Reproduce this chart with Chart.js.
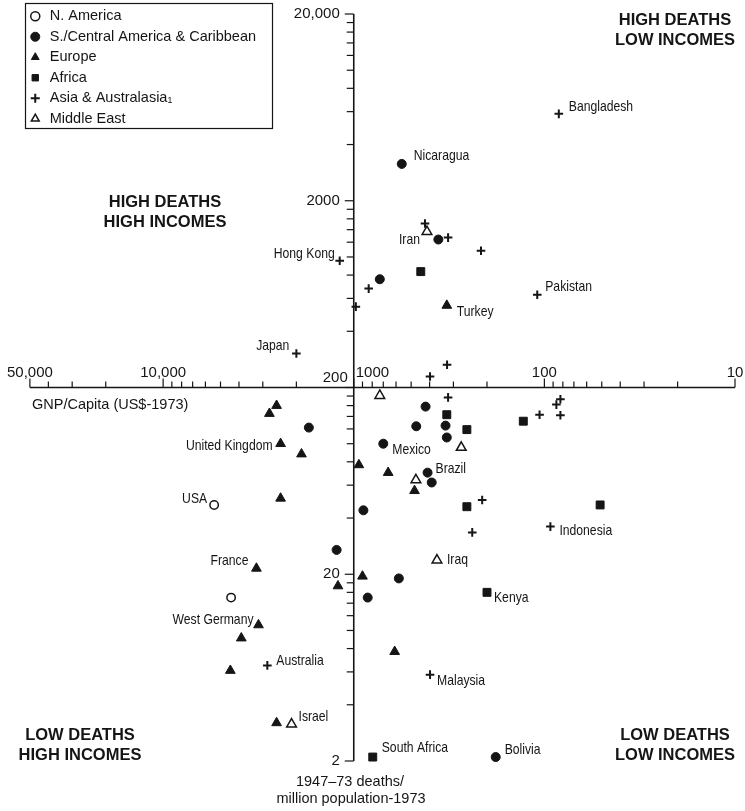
<!DOCTYPE html>
<html>
<head>
<meta charset="utf-8">
<script src="https://cdn.jsdelivr.net/npm/chart.js@4.4.1/dist/chart.umd.min.js"></script>
<style>
    html, body { margin: 0; padding: 0; background: #fff; }
    #wrap { width: 745px; height: 811px; position: relative; }
</style>
</head>
<body>
<div id="wrap"><canvas id="my-deaths"></canvas></div>
<script>
/*
    Data: GNP per capita (US$-1973) vs 1947-73 deaths per million population
*/

// N. America
const naGnp = [5400, 4400];
const naDeaths = [47, 15];
const naNames = ['USA', ''];

// S./Central America & Caribbean
const saGnp = [560, 360, 730, 420, 470, 330, 325, 700, 410, 390, 890, 1720, 1230, 580, 845, 180];
const saDeaths = [3150, 1240, 760, 158, 124, 125, 108, 100, 70, 62, 44, 122, 27, 19, 15, 2.1];
const saNames = ['Nicaragua', '', '', '', '', '', '', 'Mexico', 'Brazil', '', '', '', '', '', '', 'Bolivia'];

// Europe
const euGnp = [325, 940, 660, 480, 2540, 2770, 2420, 1880, 2420, 3240, 900, 1210, 3160, 3890, 610, 4440, 2540];
const euDeaths = [550, 77, 70, 56, 160, 145, 100, 88, 51, 21.5, 19.5, 17.3, 10.7, 9.1, 7.7, 6.1, 3.2];
const euNames = ['Turkey', '', '', '', '', '', 'United Kingdom', '', '', 'France', '', '', 'West Germany', '', '', '', ''];

// Africa
const afGnp = [445, 325, 255, 129, 255, 51, 200, 795];
const afDeaths = [835, 143, 119, 132, 46, 47, 16, 2.1];
const afNames = ['', '', '', '', '', '', 'Kenya', 'South Africa'];

// Asia & Australasia
const asGnp = [84, 423, 320, 215, 1185, 835, 975, 109, 2000, 324, 398, 320, 212, 239, 93, 106, 86.5, 82.4, 82.4, 2840, 398];
const asDeaths = [5840, 1510, 1270, 1080, 955, 677, 542, 628, 304, 265, 229, 177, 50, 33.5, 36, 143, 162, 173, 142, 6.5, 5.8];
const asNames = ['Bangladesh', '', '', '', 'Hong Kong', '', '', 'Pakistan', 'Japan', '', '', '', '', '', 'Indonesia', '', '', '', '', 'Australia', 'Malaysia'];

// Middle East
const meGnp = [413, 730, 273, 472, 366, 2120];
const meDeaths = [1366, 181, 95.5, 64, 23.8, 3.15];
const meNames = ['Iran', '', '', '', 'Iraq', 'Israel'];

const regionLabels = ['N. America', 'S./Central America & Caribbean', 'Europe', 'Africa', 'Asia & Australasia\u2081', 'Middle East'];

// axes (x is reversed: rich countries on the left)
const xTickValues = [50000, 10000, 1000, 100, 10];
const xTickLabels = ['50,000', '10,000', '1000', '100', '10'];
const yTickValues = [20000, 2000, 200, 20, 2];
const yTickLabels = ['20,000', '2000', '200', '20', '2'];
const xTitle = 'GNP/Capita (US$-1973)';
const yTitle = ['1947\u201373 deaths/', 'million population-1973'];
const quadrantNotes = [
    ['HIGH DEATHS', 'LOW INCOMES'],
    ['HIGH DEATHS', 'HIGH INCOMES'],
    ['LOW DEATHS', 'HIGH INCOMES'],
    ['LOW DEATHS', 'LOW INCOMES']
];

const INK = '#151515';
const SANS = '"Liberation Sans", Arial, Helvetica, sans-serif';

const toPoints = (xs, ys) => xs.map((v, i) => ({ x: v, y: ys[i] }));

function makeSet(label, xs, ys, names, style, radius, fill, width) {
    return {
        label: label,
        data: toPoints(xs, ys),
        names: names,
        pointStyle: style,
        pointRadius: radius,
        pointHoverRadius: radius,
        backgroundColor: fill,
        borderColor: INK,
        borderWidth: width,
        pointBorderWidth: width,
        clip: false
    };
}

// where each country name sits next to its marker: [dx, dy, align]
const labelPlace = {
    'Bangladesh': [10, -7, 'left'],
    'Nicaragua': [12, -8, 'left'],
    'Iran': [-7, 8, 'right'],
    'Hong Kong': [-5, -7, 'right'],
    'Turkey': [10, 7, 'left'],
    'Pakistan': [8, -8, 'left'],
    'Japan': [-7, -8, 'right'],
    'Mexico': [9, 6, 'left'],
    'Brazil': [8, -4, 'left'],
    'Indonesia': [9, 4, 'left'],
    'United Kingdom': [-8, 2, 'right'],
    'USA': [-7, -6, 'right'],
    'France': [-8, -7, 'right'],
    'Iraq': [10, 0, 'left'],
    'Kenya': [7, 6, 'left'],
    'West Germany': [-5, -5, 'right'],
    'Australia': [9, -4, 'left'],
    'Malaysia': [7, 6, 'left'],
    'Israel': [7, -7, 'left'],
    'South Africa': [9, -9, 'left'],
    'Bolivia': [9, -7, 'left']
};

/*
    Axes crossing at GNP 1000 / 200 deaths, drawn from the chart's own scales
*/
const crossAxes = {
    id: 'crossAxes',
    beforeDatasetsDraw(chart) {
        const { ctx, scales: { x, y } } = chart;
        const ax = x.getPixelForValue(1000);
        const ay = y.getPixelForValue(200);
        ctx.save();
        ctx.strokeStyle = INK;
        ctx.fillStyle = INK;

        // x axis line + ticks (pointing up)
        ctx.lineWidth = 1.6;
        ctx.beginPath();
        ctx.moveTo(x.getPixelForValue(50000), ay);
        ctx.lineTo(x.getPixelForValue(10), ay);
        ctx.stroke();
        ctx.lineWidth = 1.2;
        for (let p = 10; p <= 10000; p *= 10) {
            for (let m = 1; m <= 9; m++) {
                const v = m * p;
                if (v > 50000) break;
                const px = x.getPixelForValue(v);
                const len = xTickValues.includes(v) ? 9 : 6;
                ctx.beginPath();
                ctx.moveTo(px, ay);
                ctx.lineTo(px, ay - len);
                ctx.stroke();
            }
        }

        // y axis line + ticks (pointing left)
        ctx.lineWidth = 1.6;
        ctx.beginPath();
        ctx.moveTo(ax, y.getPixelForValue(20000));
        ctx.lineTo(ax, y.getPixelForValue(2));
        ctx.stroke();
        ctx.lineWidth = 1.2;
        for (let p = 1; p <= 10000; p *= 10) {
            for (let m = 2; m <= 18; m += 2) {
                const v = m * p;
                if (v > 20000) break;
                const py = y.getPixelForValue(v);
                const len = yTickValues.includes(v) ? 9 : 7;
                ctx.beginPath();
                ctx.moveTo(ax, py);
                ctx.lineTo(ax - len, py);
                ctx.stroke();
            }
        }

        // tick labels
        ctx.font = '15px ' + SANS;
        ctx.textBaseline = 'alphabetic';
        xTickValues.forEach((v, i) => {
            const px = x.getPixelForValue(v);
            if (v === 1000) {
                ctx.textAlign = 'left';
                ctx.fillText(xTickLabels[i], px + 2, ay - 11);
            } else {
                ctx.textAlign = 'center';
                ctx.fillText(xTickLabels[i], px, ay - 11);
            }
        });
        ctx.textAlign = 'right';
        ctx.textBaseline = 'middle';
        yTickValues.forEach((v, i) => {
            const py = y.getPixelForValue(v);
            if (v === 200) {
                ctx.fillText(yTickLabels[i], ax - 6, py - 10);
            } else {
                ctx.fillText(yTickLabels[i], ax - 14, py);
            }
        });
        ctx.restore();
    },
    afterDatasetsDraw(chart) {
        const { ctx } = chart;
        ctx.save();
        ctx.fillStyle = INK;
        ctx.textBaseline = 'middle';
        ctx.font = '14.5px ' + SANS;
        chart.data.datasets.forEach((ds, di) => {
            const meta = chart.getDatasetMeta(di);
            meta.data.forEach((pt, j) => {
                const name = ds.names[j];
                if (!name) return;
                const place = labelPlace[name] || [8, 0, 'left'];
                // condensed look: squeeze the text sideways
                ctx.save();
                ctx.translate(pt.x + place[0], pt.y + place[1]);
                ctx.scale(0.84, 1);
                ctx.textAlign = place[2];
                ctx.fillText(name, 0, 0);
                ctx.restore();
            });
        });
        ctx.restore();
    },
    afterDraw(chart) {
        const { ctx } = chart;
        ctx.save();
        ctx.fillStyle = INK;
        ctx.strokeStyle = INK;

        // legend frame
        ctx.lineWidth = 1.2;
        ctx.strokeRect(25.5, 3.5, 247, 125);

        // axis titles
        ctx.font = '14.5px ' + SANS;
        ctx.textBaseline = 'middle';
        ctx.textAlign = 'left';
        ctx.fillText(xTitle, 32, 405);
        ctx.textAlign = 'center';
        ctx.fillText(yTitle[0], 350, 782);
        ctx.fillText(yTitle[1], 351, 799);

        // quadrant notes
        ctx.font = 'bold 16.5px ' + SANS;
        const spots = [[675, 20], [165, 202], [80, 735], [675, 735]];
        quadrantNotes.forEach((lines, i) => {
            ctx.fillText(lines[0], spots[i][0], spots[i][1]);
            ctx.fillText(lines[1], spots[i][0], spots[i][1] + 20);
        });
        ctx.restore();
    }
};

const ctx = document.getElementById('my-deaths').getContext('2d');
const myChart = new Chart(ctx, {
    type: 'scatter',
    data: {
        datasets: [
            makeSet(regionLabels[0], naGnp, naDeaths, naNames, 'circle', 4.2, '#ffffff', 1.5),
            makeSet(regionLabels[1], saGnp, saDeaths, saNames, 'circle', 4.5, INK, 1),
            makeSet(regionLabels[2], euGnp, euDeaths, euNames, 'triangle', 5.6, INK, 1),
            makeSet(regionLabels[3], afGnp, afDeaths, afNames, 'rect', 5.6, INK, 1),
            makeSet(regionLabels[4], asGnp, asDeaths, asNames, 'cross', 4.3, INK, 2),
            makeSet(regionLabels[5], meGnp, meDeaths, meNames, 'triangle', 5.6, '#ffffff', 1.5)
        ]
    },
    options: {
        animation: false, // no animation
        responsive: true,
        maintainAspectRatio: false,
        events: [],
        layout: {
            padding: { left: 22, right: 10, top: 14, bottom: 50 }
        },
        scales: {
            x: {
                type: 'logarithmic',
                reverse: true,
                min: 10,
                max: 55000,
                display: false
            },
            y: {
                type: 'logarithmic',
                min: 2,
                max: 20000,
                display: false
            }
        },
        plugins: {
            legend: {
                position: 'chartArea',
                align: 'start',
                title: {
                    // empty title only nudges the rows down a little
                    display: true,
                    text: '',
                    padding: 0,
                    font: { size: 2.5 }
                },
                labels: {
                    usePointStyle: true,
                    boxHeight: 6.4,
                    padding: 6,
                    color: INK,
                    font: { family: SANS, size: 14.5 }
                }
            },
            tooltip: { enabled: false }
        }
    },
    plugins: [crossAxes]
});
</script>
</body>
</html>
